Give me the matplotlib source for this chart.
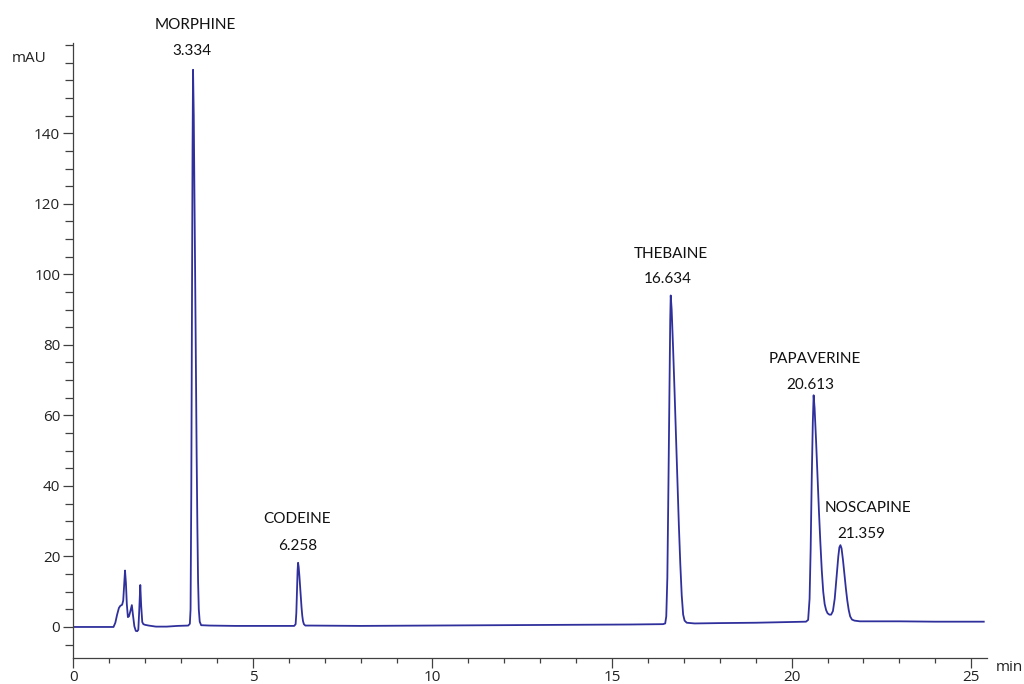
import numpy as np
import matplotlib
matplotlib.use("Agg")
import matplotlib.pyplot as plt
from matplotlib.ticker import MultipleLocator

# ---------------- data ----------------
# early solvent-front cluster + baseline up to morphine
t_early = [0.00, 1.12, 1.17, 1.22, 1.27, 1.31, 1.36, 1.39, 1.415, 1.44, 1.465, 1.49,
           1.52, 1.55, 1.59, 1.63, 1.66, 1.70, 1.74, 1.78, 1.81, 1.835, 1.865, 1.89,
           1.92, 1.95, 2.00, 2.10, 2.30, 2.60, 2.90, 3.15]
y_early = [0.0, 0.0, 1.2, 3.5, 5.4, 6.0, 6.3, 7.5, 12.0, 16.0, 12.5, 6.5,
           2.8, 3.0, 4.5, 6.2, 3.5, 0.2, -1.1, -1.2, -0.8, 4.5, 11.9, 6.0,
           1.4, 0.8, 0.6, 0.4, 0.1, 0.1, 0.3, 0.4]

t_morphine = [3.20, 3.245, 3.265, 3.285, 3.305, 3.320, 3.334, 3.354, 3.374, 3.394,
              3.414, 3.434, 3.454, 3.474, 3.494, 3.52, 3.56]
y_morphine = [0.4, 0.9, 5.0, 38.0, 95.0, 135.0, 158.0, 145.0, 123.0, 98.0,
              73.0, 49.0, 29.0, 13.0, 5.0, 1.5, 0.5]

t_mid1 = [3.80, 4.50, 5.50, 6.15]
y_mid1 = [0.4, 0.3, 0.3, 0.3]

t_codeine = [6.19, 6.21, 6.23, 6.245, 6.258, 6.275, 6.295, 6.315, 6.335, 6.355,
             6.375, 6.395, 6.42, 6.46]
y_codeine = [0.8, 4.0, 11.0, 16.0, 18.2, 17.0, 14.5, 11.5, 8.5, 5.5,
             3.2, 1.7, 0.8, 0.4]

t_mid2 = [6.60, 8.00, 10.00, 12.00, 14.00, 15.50, 16.42]
y_mid2 = [0.4, 0.3, 0.4, 0.5, 0.6, 0.7, 0.8]

t_thebaine = [16.48, 16.51, 16.54, 16.57, 16.60, 16.62, 16.634, 16.66, 16.70, 16.74,
              16.78, 16.82, 16.86, 16.90, 16.94, 16.98, 17.02, 17.08]
y_thebaine = [1.0, 3.0, 14.0, 40.0, 70.0, 87.0, 94.0, 90.0, 79.0, 67.0,
              54.0, 41.0, 29.0, 18.0, 9.0, 3.5, 1.8, 1.2]

t_mid3 = [17.30, 18.00, 19.00, 20.00, 20.40]
y_mid3 = [1.0, 1.1, 1.2, 1.4, 1.5]

t_pap_nos = [20.46, 20.50, 20.53, 20.56, 20.59, 20.613, 20.64, 20.68, 20.72, 20.76,
             20.80, 20.84, 20.88, 20.92, 20.96, 21.00, 21.05, 21.10, 21.15, 21.20,
             21.25, 21.30, 21.33, 21.359, 21.39, 21.43, 21.47, 21.51, 21.55, 21.59,
             21.63, 21.68, 21.75]
y_pap_nos = [2.0, 8.0, 22.0, 42.0, 58.0, 65.7, 62.0, 53.0, 43.0, 33.0,
             24.0, 16.0, 10.0, 6.5, 4.8, 3.9, 3.5, 3.5, 4.5, 8.0,
             14.0, 20.0, 22.6, 23.2, 22.3, 19.0, 15.0, 11.0, 7.5, 4.8,
             3.0, 2.1, 1.8]

t_tail = [21.90, 23.00, 24.00, 25.35]
y_tail = [1.6, 1.6, 1.5, 1.5]

peak_names = ["MORPHINE", "CODEINE", "THEBAINE", "PAPAVERINE", "NOSCAPINE"]
peak_rt = [3.334, 6.258, 16.634, 20.613, 21.359]
peak_labels = ["3.334", "6.258", "16.634", "20.613", "21.359"]
peak_height = [158.0, 18.2, 94.0, 65.7, 23.2]

y_major = [0, 20, 40, 60, 80, 100, 120, 140]
x_major = [0, 5, 10, 15, 20, 25]

# ---------------- assemble trace ----------------
t = np.concatenate([t_early, t_morphine, t_mid1, t_codeine, t_mid2, t_thebaine,
                    t_mid3, t_pap_nos, t_tail])
y = np.concatenate([y_early, y_morphine, y_mid1, y_codeine, y_mid2, y_thebaine,
                    y_mid3, y_pap_nos, y_tail])

# ---------------- figure ----------------
W, H = 1024, 684
fig = plt.figure(figsize=(W / 100, H / 100), dpi=100)
fig.patch.set_facecolor("white")

left_px, right_px, top_px, bot_px = 73.3, 987, 43, 658
ax = fig.add_axes([left_px / W, 1 - bot_px / H, (right_px - left_px) / W,
                   (bot_px - top_px) / H])

ax.plot(t, y, color="#30309c", lw=1.3, solid_joinstyle="round")

ax.set_xlim(0, 25.44)
ax.set_ylim(-8.8, 165.6)

axis_col = "#404040"
for s in ["top", "right"]:
    ax.spines[s].set_visible(False)
for s in ["left", "bottom"]:
    ax.spines[s].set_color(axis_col)
    ax.spines[s].set_linewidth(0.9)

ax.set_xticks(x_major)
ax.set_yticks(y_major)
ax.xaxis.set_minor_locator(MultipleLocator(1))
ax.yaxis.set_minor_locator(MultipleLocator(5))

tick_font = "Open Sans"
ax.xaxis.set_tick_params(which="major", length=7.2, width=0.9, color=axis_col,
                         pad=1.2, labelsize=11, labelcolor="#222222")
ax.xaxis.set_tick_params(which="minor", length=3.6, width=0.9, color=axis_col)
ax.yaxis.set_tick_params(which="major", length=7.2, width=0.9, color=axis_col,
                         pad=2.2, labelsize=11, labelcolor="#222222")
ax.yaxis.set_tick_params(which="minor", length=5.5, width=0.9, color=axis_col)
for lab in ax.get_xticklabels() + ax.get_yticklabels():
    lab.set_fontfamily(tick_font)

# axis unit labels
fig.text(12 / W, 1 - 62 / H, "mAU", fontsize=11, family=tick_font,
         color="#222222", ha="left", va="baseline")
fig.text(996 / W, 1 - 671 / H, "min", fontsize=11, family=tick_font,
         color="#222222", ha="left", va="baseline")

# peak labels (offsets in pixels: name, value)
name_off = [(2, 41), (-1, 40), (0, 37), (1, 32), (28, 33)]
val_off = [(-1, 15), (0, 13), (-3, 12), (-3, 6), (21, 7)]
for i in range(len(peak_names)):
    ax.annotate(peak_names[i], xy=(peak_rt[i], peak_height[i]),
                xytext=name_off[i], textcoords="offset pixels",
                ha="center", va="baseline", fontsize=11, family="Lato",
                color="#111111")
    ax.annotate(peak_labels[i], xy=(peak_rt[i], peak_height[i]),
                xytext=val_off[i], textcoords="offset pixels",
                ha="center", va="baseline", fontsize=11, family="Lato",
                color="#111111")

fig.savefig("out.png", dpi=100, facecolor="white")
